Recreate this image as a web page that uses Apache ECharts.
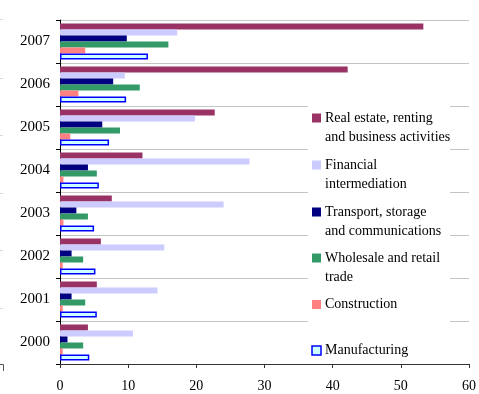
<!DOCTYPE html>
<html>
<head>
<meta charset="utf-8">
<script src="https://cdn.jsdelivr.net/npm/echarts@6/dist/echarts.min.js"></script>
<style>
  html, body { margin: 0; padding: 0; background: #fff; }
  #chart { width: 479px; height: 394px; }
</style>
</head>
<body>
<div id="chart"></div>
<script>
// Years on the category axis (bottom to top)
const years = ['2000', '2001', '2002', '2003', '2004', '2005', '2006', '2007'];

// Sector labels, as shown in the legend
const sectorNames = [
  'Real estate, renting\nand business activities',
  'Financial\nintermediation',
  'Transport, storage\nand communications',
  'Wholesale and retail\ntrade',
  'Construction',
  'Manufacturing'
];

// Values per sector, one per year
const realEstate    = [4.1, 5.4, 6.0, 7.6, 12.1, 22.7, 42.2, 53.3];
const financial     = [10.7, 14.3, 15.3, 24.0, 27.8, 19.8, 9.5, 17.2];
const transport     = [1.1, 1.7, 1.7, 2.4, 4.1, 6.2, 7.8, 9.8];
const wholesale     = [3.4, 3.7, 3.4, 4.1, 5.4, 8.8, 11.7, 15.9];
const construction  = [0.4, 0.4, 0.4, 0.5, 0.5, 1.5, 2.7, 3.7];
const manufacturing = [4.3, 5.4, 5.2, 5.0, 5.7, 7.2, 9.7, 12.9];

// Value axis range
const xMin = 0;
const xMax = 60;
const xStep = 10;

const sectorValues = [realEstate, financial, transport, wholesale, construction, manufacturing];
const fills   = ['#993366', '#CCCCFF', '#000080', '#339966', '#FF8080', '#CCFFFF'];
const borders = [null, null, null, null, null, '#0000FF'];

const FONT = 'Liberation Serif, Times New Roman, serif';

const series = sectorValues.map((vals, i) => ({
  name: sectorNames[i],
  type: 'bar',
  data: vals,
  barWidth: 6,
  barGap: '0%',
  itemStyle: borders[i]
    ? { color: fills[i], borderColor: borders[i], borderWidth: 1.5 }
    : { color: fills[i] },
  silent: true
}));

// Legend drawn as a white panel with a square swatch and label per sector
const legendCenters = [118, 165, 212, 258, 304.5, 350.5];
const legendEls = [{
  type: 'rect',
  shape: { x: 308, y: 95, width: 142, height: 265 },
  style: { fill: '#fff' },
  z: 100
}];
sectorNames.forEach((name, i) => {
  legendEls.push({
    type: 'rect',
    shape: { x: 312, y: legendCenters[i] - 4.5, width: 9, height: 9 },
    style: borders[i]
      ? { fill: fills[i], stroke: borders[i], lineWidth: 1.5 }
      : { fill: fills[i] },
    z: 101
  });
  legendEls.push({
    type: 'text',
    x: 325,
    y: legendCenters[i] - 9.5,
    style: {
      text: name,
      font: '14px ' + FONT,
      fill: '#000',
      lineHeight: 19,
      verticalAlign: 'top',
      align: 'left'
    },
    z: 101
  });
});

// Faint tick stubs of a neighbouring axis along the left edge
[19.5, 78.5, 135.5, 193.5, 250.5, 308.5].forEach(y => {
  legendEls.push({
    type: 'line',
    shape: { x1: 0, y1: y, x2: 3, y2: y },
    style: { stroke: '#d8d8d8', lineWidth: 1 },
    z: 5
  });
});
legendEls.push({
  type: 'polyline',
  shape: { points: [[0, 364.5], [3.5, 364.5], [3.5, 371]] },
  style: { stroke: '#555', lineWidth: 1, fill: null },
  z: 5
});

const chart = echarts.init(document.getElementById('chart'), null, { renderer: 'canvas' });
chart.setOption({
  animation: false,
  backgroundColor: '#fff',
  grid: { left: 60, right: 7, top: 20, bottom: 30, containLabel: false },
  xAxis: {
    type: 'value',
    min: xMin,
    max: xMax,
    interval: xStep,
    axisLine: { show: true, lineStyle: { color: '#333', width: 1 } },
    axisTick: { show: true, length: 4, inside: false, lineStyle: { color: '#333' } },
    splitLine: { show: false },
    axisLabel: { color: '#000', fontFamily: FONT, fontSize: 14, margin: 15 }
  },
  yAxis: {
    type: 'category',
    data: years,
    axisLine: { show: true, lineStyle: { color: '#000', width: 1 } },
    axisTick: { show: true, length: 4, lineStyle: { color: '#000' } },
    splitLine: { show: true, lineStyle: { color: '#c4c4c4', width: 1 } },
    axisLabel: { color: '#000', fontFamily: FONT, fontSize: 15, margin: 10 }
  },
  series: series,
  graphic: { elements: legendEls }
});
</script>
</body>
</html>
